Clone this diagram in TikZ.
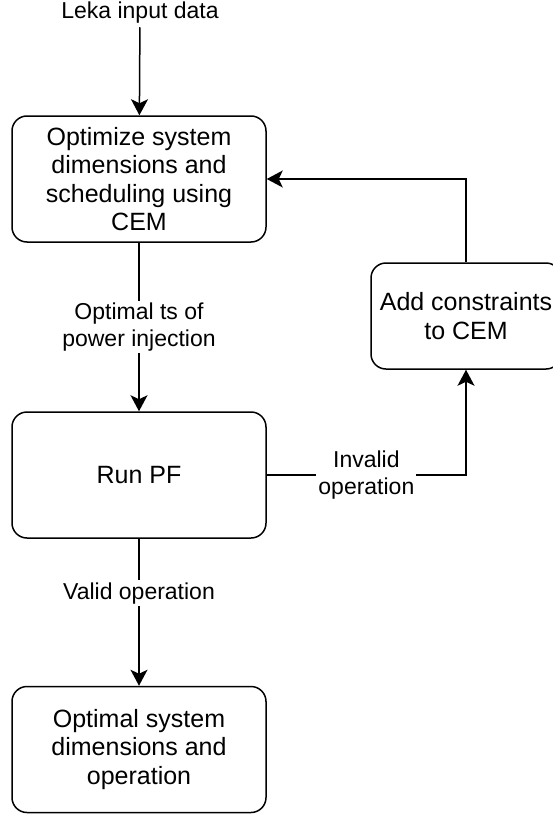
\documentclass[tikz,border=0pt]{standalone}
\usepackage{fontspec}
\setmainfont{Liberation Sans}
\usetikzlibrary{arrows.meta}
\tikzset{
  block/.style={draw, rounded corners=15pt, line width=1.5pt, align=center, inner sep=0pt,
    minimum width=254pt, minimum height=126pt, font=\fontsize{25}{28.5}\selectfont},
  lbl/.style={fill=white, align=center, inner sep=2pt, font=\fontsize{23}{27}\selectfont},
  flow/.style={-{Stealth[length=16pt,width=17pt,inset=4pt]}, line width=1.5pt},
}
\begin{document}
\begin{tikzpicture}[x=1pt,y=-1pt]
        \useasboundingbox (0,0) rectangle (552,816);
        % Input
        \node[font=\fontsize{23}{27}\selectfont] (input) at (140,13) {Leka input data};

        % Blocks
        \node[block] (cem) at (139,179) {Optimize system\\dimensions and\\scheduling using\\CEM};
        \node[block] (pf) at (139,475) {Run PF};
        \node[block] (result) at (139,749.5) {Optimal system\\dimensions and\\operation};
        \node[block, minimum width=190pt, minimum height=106pt] (fix) at (466,316) {Add constraints\\to CEM};

        % Flow
        \draw[flow] (input) -- (cem);
        \draw[flow] (cem) -- node[lbl] {Optimal ts of\\power injection} (pf);
        \draw[flow] (pf) -- node[lbl, pos=0.37] {Valid operation} (result);

        % Feedback loop
        \draw[flow] (pf.east) -| node[lbl, pos=0.25] {Invalid\\operation} (fix.south);
        \draw[flow] (fix.north) |- (cem.east);
    \end{tikzpicture}
\end{document}
